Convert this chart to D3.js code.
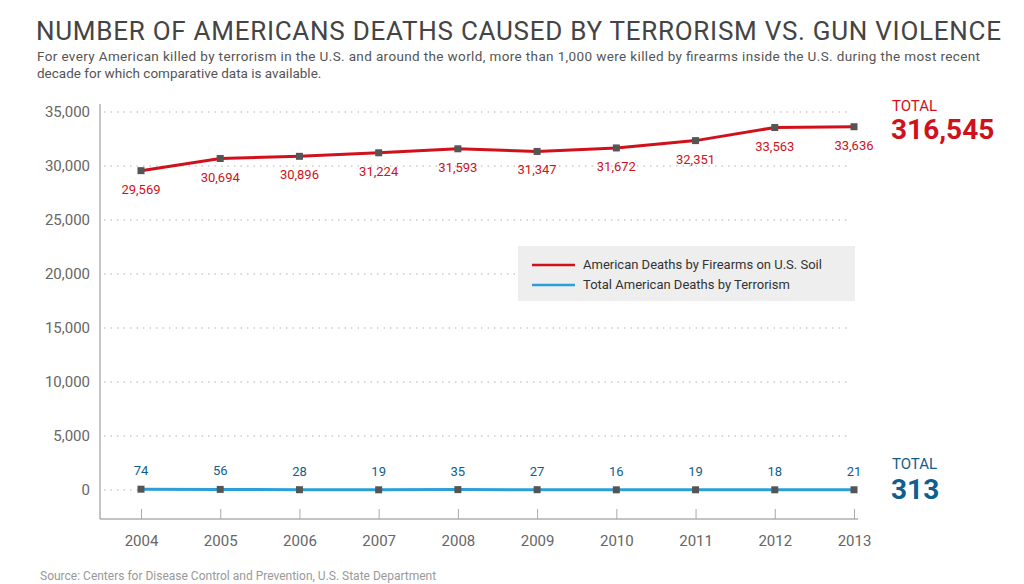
<!DOCTYPE html>
<html lang="en">
<head>
<meta charset="UTF-8">
<script src="https://d3js.org/d3.v7.min.js"></script>
<style>
  body { margin: 0; background: #fff; }
  * { font-family: "Roboto", "Liberation Sans", sans-serif; }
</style>
</head>
<body>
<svg width="1024" height="584"></svg>
<script>
  const years = [2004, 2005, 2006, 2007, 2008, 2009, 2010, 2011, 2012, 2013];
  const firearms = [29569, 30694, 30896, 31224, 31593, 31347, 31672, 32351, 33563, 33636];
  const terrorism = [74, 56, 28, 19, 35, 27, 16, 19, 18, 21];
  const yTicks = [0, 5000, 10000, 15000, 20000, 25000, 30000, 35000];
  const seriesNames = ["American Deaths by Firearms on U.S. Soil", "Total American Deaths by Terrorism"];
  const totals = ["316,545", "313"];

  const red = "#d0111b", blue = "#2a9fd8", darkBlue = "#0f5e8c";
  const svg = d3.select("svg");

  // Title and subtitle
  svg.append("text").attr("x", 36).attr("y", 40).text("NUMBER OF AMERICANS DEATHS CAUSED BY TERRORISM VS. GUN VIOLENCE")
    .attr("font-size", "26px").attr("fill", "#444").attr("textLength", 965);
  svg.append("text").attr("x", 37).attr("y", 61)
    .text("For every American killed by terrorism in the U.S. and around the world, more than 1,000 were killed by firearms inside the U.S. during the most recent")
    .attr("font-size", "13.5px").attr("fill", "#555").attr("textLength", 943);
  svg.append("text").attr("x", 37).attr("y", 78).text("decade for which comparative data is available.")
    .attr("font-size", "13.5px").attr("fill", "#555");

  const x = d3.scaleLinear().domain([2004, 2013]).range([141, 854]);
  const y = d3.scaleLinear().domain([0, 35000]).range([490, 112]);
  const bottom = 519;

  // Grid lines
  svg.selectAll(".grid").data(yTicks).join("line")
    .attr("x1", 104).attr("x2", 848).attr("y1", d => y(d)).attr("y2", d => y(d))
    .attr("stroke", "#ccc").attr("stroke-width", 1.5).attr("stroke-dasharray", "1.5,5");

  // Axes
  const yAxis = svg.append("g").attr("transform", "translate(100,0)")
    .call(d3.axisLeft(y).tickValues(yTicks).tickSize(0).tickPadding(10).tickFormat(d3.format(",")));
  yAxis.select(".domain").remove();
  yAxis.selectAll("text").attr("font-size", "15px").attr("fill", "#666");
  svg.append("line").attr("x1", 100).attr("x2", 100).attr("y1", 104).attr("y2", bottom).attr("stroke", "#888");

  const xAxis = svg.append("g").attr("transform", `translate(0,${bottom})`)
    .call(d3.axisBottom(x).tickValues(years).tickFormat(d3.format("d")).tickSize(-10).tickPadding(16));
  xAxis.select(".domain").attr("d", `M100,0H858`).attr("stroke", "#888");
  xAxis.selectAll(".tick line").attr("stroke", "#aaa");
  xAxis.selectAll("text").attr("font-size", "15px").attr("fill", "#666");

  // Lines
  const line = d3.line().x((d, i) => x(years[i])).y(d => y(d));
  svg.append("path").datum(firearms).attr("d", line).attr("fill", "none").attr("stroke", red).attr("stroke-width", 3);
  svg.append("path").datum(terrorism).attr("d", line).attr("fill", "none").attr("stroke", blue).attr("stroke-width", 3);

  [firearms, terrorism].forEach(s => {
    svg.selectAll(null).data(s).join("rect")
      .attr("x", (d, i) => x(years[i]) - 3.5).attr("y", d => y(d) - 3.5)
      .attr("width", 7).attr("height", 7).attr("fill", "#555");
  });

  svg.selectAll(null).data(firearms).join("text")
    .attr("x", (d, i) => x(years[i])).attr("y", d => y(d) + 23).attr("text-anchor", "middle")
    .text(d3.format(",")).attr("font-size", "13px").attr("fill", red);
  svg.selectAll(null).data(terrorism).join("text")
    .attr("x", (d, i) => x(years[i])).attr("y", d => y(d) - 14).attr("text-anchor", "middle")
    .text(d => d).attr("font-size", "13px").attr("fill", darkBlue);

  // Totals
  svg.append("text").attr("x", 892).attr("y", 111).text("TOTAL").attr("font-size", "15px").attr("fill", red);
  svg.append("text").attr("x", 891).attr("y", 139).text(totals[0]).attr("font-size", "28px").attr("font-weight", "bold").attr("fill", red);
  svg.append("text").attr("x", 892).attr("y", 469).text("TOTAL").attr("font-size", "15px").attr("fill", darkBlue);
  svg.append("text").attr("x", 891).attr("y", 499).text(totals[1]).attr("font-size", "28px").attr("font-weight", "bold").attr("fill", darkBlue);

  // Legend
  const lg = svg.append("g").attr("transform", "translate(518,246)");
  lg.append("rect").attr("width", 337).attr("height", 55).attr("fill", "#eeeeee");
  [red, blue].forEach((c, i) => {
    lg.append("line").attr("x1", 14).attr("x2", 57).attr("y1", 19 + i * 20).attr("y2", 19 + i * 20)
      .attr("stroke", c).attr("stroke-width", 2.5);
    lg.append("text").attr("x", 65).attr("y", 23 + i * 20).text(seriesNames[i])
      .attr("font-size", "13px").attr("fill", "#333");
  });

  // Source
  svg.append("text").attr("x", 40).attr("y", 580).text("Source: Centers for Disease Control and Prevention, U.S. State Department")
    .attr("font-size", "12px").attr("fill", "#999");
</script>
</body>
</html>
